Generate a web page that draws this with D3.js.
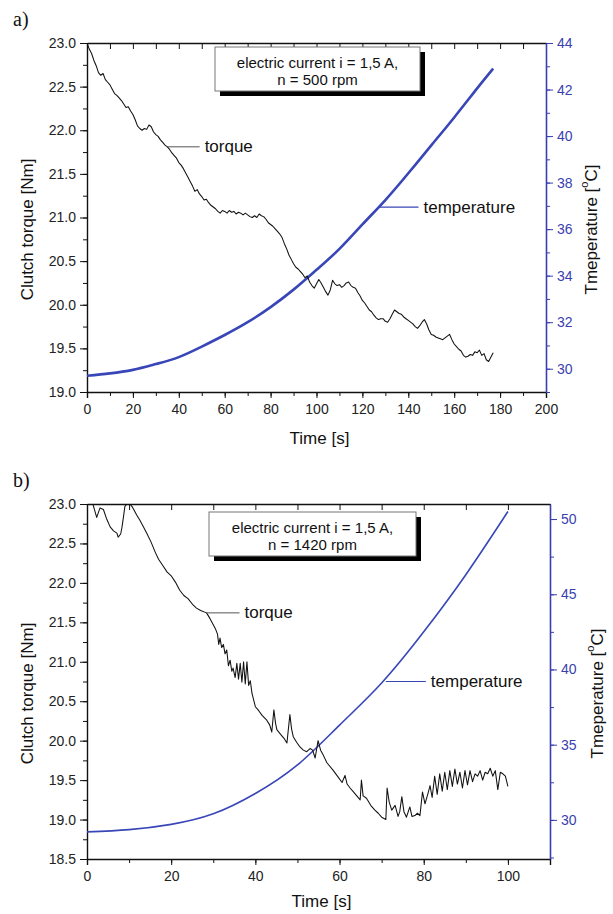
<!DOCTYPE html>
<html>
<head>
<meta charset="utf-8">
<script src="https://cdn.jsdelivr.net/npm/d3@7"></script>
<style>
  html, body { margin: 0; padding: 0; background: #fff; }
  svg { display: block; }
  text { font-family: "Liberation Sans", Arial, sans-serif; }
</style>
</head>
<body>
<svg id="chart" width="613" height="914"></svg>
<script>
// ---------- DATA : panel a) ----------
const aTorqueTime = d3.range(0, 178, 1); // sample times [s]
const aTorque = [
23.00,22.93,22.88,22.80,22.74,22.66,22.63,22.65,22.58,22.55,
22.52,22.47,22.42,22.40,22.37,22.34,22.30,22.26,22.27,22.22,
22.18,22.12,22.05,22.02,22.00,22.02,22.01,22.06,22.04,21.98,
21.95,21.93,21.89,21.86,21.83,21.81,21.78,21.74,21.71,21.68,
21.63,21.60,21.56,21.51,21.46,21.41,21.36,21.30,21.32,21.27,
21.24,21.20,21.21,21.17,21.14,21.12,21.10,21.07,21.05,21.08,
21.07,21.05,21.08,21.06,21.07,21.04,21.06,21.05,21.03,21.05,
21.03,21.01,21.00,21.02,21.00,21.04,21.02,21.01,20.98,20.94,
20.92,20.90,20.87,20.84,20.81,20.77,20.70,20.64,20.57,20.52,
20.47,20.43,20.41,20.38,20.35,20.31,20.33,20.26,20.22,20.19,
20.24,20.29,20.25,20.20,20.15,20.11,20.17,20.28,20.24,20.22,
20.23,20.20,20.22,20.25,20.26,20.22,20.20,20.19,20.14,20.10,
20.05,20.02,19.98,19.94,19.92,19.88,19.85,19.83,19.84,19.84,
19.81,19.80,19.84,19.89,19.94,19.92,19.90,19.89,19.86,19.84,
19.82,19.80,19.78,19.75,19.73,19.76,19.80,19.83,19.78,19.71,
19.66,19.65,19.63,19.62,19.61,19.60,19.62,19.64,19.66,19.60,
19.55,19.52,19.49,19.47,19.42,19.40,19.41,19.43,19.42,19.46,
19.45,19.48,19.42,19.44,19.37,19.35,19.40,19.45
];
const aTempTime = [0, 10, 20, 30, 40, 50, 60, 70, 80, 90, 100, 110, 120, 130, 140, 150, 160, 170, 177];
const aTemp     = [29.7, 29.8, 29.95, 30.2, 30.5, 30.95, 31.45, 32.0, 32.65, 33.4, 34.25, 35.15, 36.2, 37.25, 38.4, 39.6, 40.8, 42.05, 42.9];
const aXTicks = [0, 20, 40, 60, 80, 100, 120, 140, 160, 180, 200];
const aYLTicks = [19.0, 19.5, 20.0, 20.5, 21.0, 21.5, 22.0, 22.5, 23.0];
const aYRTicks = [30, 32, 34, 36, 38, 40, 42, 44];
const aLegend = ["electric current i = 1,5 A,", "n = 500 rpm"];

// ---------- DATA : panel b) ----------
const bTorqueTime = [
0,1,1.5,2.3,3.1,3.9,4.6,5.5,6.3,7.1,7.4,8.0,8.3,8.7,9.0,9.5,10.2,10.8,
11.8,12.5,13.3,14.2,15.2,16.2,17.0,18.0,19.0,20.0,21.0,22.0,23.0,24.0,25.2,26.0,27.0,28.4,29.2,30.0,
30.5,31.0,31.3,31.6,32.0,32.4,32.8,33.2,33.6,34.0,34.4,34.7,35.2,35.6,36.0,36.4,36.8,37.2,37.6,38.0,38.4,38.8,39.2,
40.0,40.8,41.6,42.7,43.4,43.9,44.4,44.8,45.1,46.0,46.8,47.5,48.2,48.6,49.0,49.8,50.6,51.4,52.2,53.0,53.6,54.2,54.9,55.5,56.1,
57.0,58.4,59.5,60.6,61.3,61.8,62.5,63.3,64.1,64.9,65.2,65.6,66.4,67.4,68.4,69.2,70.0,71.0,71.3,71.8,72.4,73.2,73.9,74.3,74.8,
75.3,75.9,76.7,77.2,77.9,78.5,79.1,79.7,80.3,81.0,81.5,82.0,82.6,83.2,83.8,84.4,85.0,85.6,86.2,86.8,87.4,88.0,88.6,89.2,89.8,
90.4,91.0,91.6,92.2,92.8,93.4,94.0,94.6,95.2,95.8,96.4,97.0,97.6,98.2,98.8,99.4,100.0
];
const bTorque = [
23.15,23.08,22.98,22.83,22.95,22.93,22.82,22.71,22.66,22.63,22.58,22.62,22.70,22.85,22.97,23.00,23.00,22.96,
22.86,22.80,22.72,22.63,22.52,22.39,22.30,22.22,22.14,22.09,22.01,21.91,21.84,21.80,21.72,21.68,21.65,21.62,21.55,21.47,
21.42,21.35,21.22,21.30,21.18,21.22,21.10,21.15,20.95,21.02,20.88,20.92,20.80,20.98,20.78,20.98,20.74,21.00,20.72,21.00,20.70,20.76,20.60,
20.43,20.38,20.32,20.26,20.20,20.11,20.39,20.22,20.14,20.08,20.03,19.97,20.33,20.15,20.05,19.98,19.92,19.88,19.86,19.90,19.88,19.78,20.00,19.88,19.82,
19.72,19.63,19.55,19.47,19.56,19.45,19.40,19.35,19.30,19.25,19.50,19.30,19.27,19.18,19.12,19.08,19.03,19.00,19.40,19.22,19.12,19.18,19.04,19.10,19.29,
19.10,19.03,19.16,19.04,19.05,19.08,19.05,19.35,19.20,19.33,19.43,19.28,19.55,19.32,19.58,19.36,19.60,19.38,19.62,19.42,19.64,19.45,19.60,19.40,19.62,
19.44,19.62,19.48,19.58,19.55,19.62,19.50,19.60,19.58,19.65,19.55,19.62,19.38,19.60,19.58,19.55,19.42
];
const bTempTime = [0, 10, 20, 30, 40, 50, 60, 70, 80, 90, 100];
const bTemp     = [29.2, 29.35, 29.7, 30.4, 31.75, 33.65, 36.3, 39.1, 42.5, 46.3, 50.5];
const bXTicks = [0, 20, 40, 60, 80, 100];
const bYLTicks = [18.5, 19.0, 19.5, 20.0, 20.5, 21.0, 21.5, 22.0, 22.5, 23.0];
const bYRTicks = [30, 35, 40, 45, 50];
const bLegend = ["electric current i = 1,5 A,", "n = 1420 rpm"];

// ---------- DRAWING ----------
const svg = d3.select("#chart");
const BLUE = "#3a3fb0";
const LINEBLUE = "#3846b8";

function panel(cfg) {
  const g = svg.append("g");
  const x = d3.scaleLinear().domain(cfg.xDomain).range([cfg.left, cfg.right]);
  const yL = d3.scaleLinear().domain(cfg.yLDomain).range([cfg.bottom, cfg.top]);
  const yR = d3.scaleLinear().domain(cfg.yRDomain).range([cfg.bottom, cfg.top]);

  // panel letter
  g.append("text").attr("x", 13).attr("y", cfg.top - 17)
    .style("font-family", "'Liberation Serif', 'Times New Roman', serif")
    .style("font-size", "20px").attr("fill", "#111").text(cfg.letter);

  // clip
  const cid = "clip" + cfg.letter.replace(")", "");
  g.append("clipPath").attr("id", cid).append("rect")
    .attr("x", cfg.left).attr("y", cfg.top)
    .attr("width", cfg.right - cfg.left).attr("height", cfg.bottom - cfg.top);

  // bottom axis
  const xMinor = d3.range(cfg.xDomain[0], cfg.xDomain[1] + 0.001, cfg.xMinor);
  const bottomAx = d3.axisBottom(x).tickValues(cfg.xTicks).tickFormat(d3.format("d")).tickSize(6).tickPadding(6);
  const gb = g.append("g").attr("transform", `translate(0,${cfg.bottom})`);
  gb.append("g").call(d3.axisBottom(x).tickValues(xMinor).tickFormat("").tickSize(4))
    .call(a => a.select(".domain").remove());
  gb.append("g").call(bottomAx);
  gb.selectAll("text").style("font-size", "14px").attr("fill", "#222");

  // top axis (ticks inward)
  const gt = g.append("g").attr("transform", `translate(0,${cfg.top})`);
  gt.call(d3.axisTop(x).tickValues(xMinor).tickFormat("").tickSize(-6).tickSizeOuter(0));

  // left axis
  const yLMinor = d3.range(cfg.yLDomain[0], cfg.yLDomain[1] + 0.001, 0.25);
  const gl = g.append("g").attr("transform", `translate(${cfg.left},0)`);
  gl.append("g").call(d3.axisLeft(yL).tickValues(yLMinor).tickFormat("").tickSize(4))
    .call(a => a.select(".domain").remove());
  gl.append("g").call(d3.axisLeft(yL).tickValues(cfg.yLTicks).tickFormat(d3.format(".1f")).tickSize(7).tickPadding(4).tickSizeOuter(0));
  gl.selectAll("text").style("font-size", "14px").attr("fill", "#222");

  // right axis (blue)
  const yRMinor = d3.range(cfg.yRTicks[0] - cfg.yRMinor * 2, cfg.yRDomain[1] + 0.001, cfg.yRMinor)
    .filter(v => v >= cfg.yRDomain[0] && v <= cfg.yRDomain[1]);
  const gr = g.append("g").attr("transform", `translate(${cfg.right},0)`);
  gr.append("g").call(d3.axisRight(yR).tickValues(yRMinor).tickFormat("").tickSize(4))
    .call(a => a.select(".domain").remove());
  gr.append("g").call(d3.axisRight(yR).tickValues(cfg.yRTicks).tickFormat(d3.format("d")).tickSize(7).tickPadding(4).tickSizeOuter(0));
  gr.selectAll("line").attr("stroke", BLUE);
  gr.selectAll("path").attr("stroke", BLUE).attr("stroke-width", 1.6);
  gr.selectAll("text").style("font-size", "14px").attr("fill", BLUE);

  // axis titles
  g.append("text").attr("transform", `translate(${cfg.left - 60},${(cfg.top + cfg.bottom) / 2 + 12}) rotate(-90)`)
    .attr("text-anchor", "middle").attr("dominant-baseline", "central")
    .style("font-size", "17px").attr("fill", "#111").text("Clutch torque [Nm]");
  g.append("text").attr("x", (cfg.left + cfg.right) / 2 + 3).attr("y", cfg.bottom + cfg.timeDy)
    .attr("text-anchor", "middle").style("font-size", "17px").attr("fill", "#111").text("Time [s]");
  const rt = g.append("text").attr("transform", `translate(${cfg.right + cfg.rTitleDx},${(cfg.top + cfg.bottom) / 2 + 12}) rotate(-90)`)
    .attr("text-anchor", "middle").attr("dominant-baseline", "central")
    .style("font-size", "17px").attr("fill", "#111");
  rt.append("tspan").text("Tmeperature [");
  rt.append("tspan").attr("dy", -7).style("font-size", "11px").text("o");
  rt.append("tspan").attr("dy", 7).text("C]");

  // data lines
  const torqueLine = d3.line().x(d => x(d[0])).y(d => yL(d[1]));
  const tempLine = d3.line().curve(d3.curveNatural).x(d => x(d[0])).y(d => yR(d[1]));
  const plot = g.append("g").attr("clip-path", `url(#${cid})`);
  plot.append("path").datum(d3.zip(cfg.tempTime, cfg.temp)).attr("d", tempLine)
    .attr("fill", "none").attr("stroke", LINEBLUE).attr("stroke-width", cfg.tempWidth);
  plot.append("path").datum(d3.zip(cfg.torqueTime, cfg.torque)).attr("d", torqueLine)
    .attr("fill", "none").attr("stroke", "#111").attr("stroke-width", 1.05).attr("stroke-linejoin", "round");

  // annotations
  const ta = cfg.torqueLabel;
  g.append("line").attr("x1", x(ta[0])).attr("x2", x(ta[0]) + 33).attr("y1", yL(ta[1])).attr("y2", yL(ta[1]))
    .attr("stroke", "#555").attr("stroke-width", 1);
  g.append("text").attr("x", x(ta[0]) + 38).attr("y", yL(ta[1])).attr("dominant-baseline", "central")
    .style("font-size", "17px").attr("fill", "#111").text("torque");
  const te = cfg.tempLabel;
  g.append("line").attr("x1", x(te[0])).attr("x2", x(te[0]) + 40).attr("y1", yR(te[1])).attr("y2", yR(te[1]))
    .attr("stroke", LINEBLUE).attr("stroke-width", 1.2);
  g.append("text").attr("x", x(te[0]) + 45).attr("y", yR(te[1])).attr("dominant-baseline", "central")
    .style("font-size", "17px").attr("fill", "#111").text("temperature");

  // legend box
  const lb = cfg.legendBox; // [x0, y0, w, h] relative to plot top-left
  const bx = cfg.left + lb[0], by = cfg.top + lb[1];
  g.append("rect").attr("x", bx + 5).attr("y", by + 5).attr("width", lb[2]).attr("height", lb[3]).attr("fill", "#000");
  g.append("rect").attr("x", bx).attr("y", by).attr("width", lb[2]).attr("height", lb[3])
    .attr("fill", "#fff").attr("stroke", "#777").attr("stroke-width", 1);
  cfg.legend.forEach((s, i) => {
    g.append("text").attr("x", bx + lb[2] / 2).attr("y", by + 15 + i * 17.5)
      .attr("text-anchor", "middle").attr("dominant-baseline", "central")
      .style("font-size", "15px").attr("fill", "#111").text(s);
  });

  // axis line colors
  gb.selectAll(".domain").attr("stroke", "#111").attr("stroke-width", 1.4);
  gt.selectAll(".domain").attr("stroke", "#111").attr("stroke-width", 1.4);
  gl.selectAll(".domain").attr("stroke", "#111").attr("stroke-width", 1.4);
  g.selectAll("g.tick line").filter(function () { return this.getAttribute("stroke") !== BLUE; }).attr("stroke", "#111");
}

panel({
  letter: "a)", left: 87, right: 546, top: 43, bottom: 392,
  xDomain: [0, 200], xMinor: 10, xTicks: aXTicks,
  yLDomain: [19, 23], yLTicks: aYLTicks,
  yRDomain: [29, 44], yRTicks: aYRTicks, yRMinor: 1,
  torqueTime: aTorqueTime, torque: aTorque,
  tempTime: aTempTime, temp: aTemp, tempWidth: 2.6,
  torqueLabel: [34.7, 21.81], tempLabel: [127, 36.95],
  legendBox: [128, 4, 205, 44], legend: aLegend, rTitleDx: 45, timeDy: 52
});

panel({
  letter: "b)", left: 87, right: 550, top: 504, bottom: 859,
  xDomain: [0, 110], xMinor: 10, xTicks: bXTicks,
  yLDomain: [18.5, 23], yLTicks: bYLTicks,
  yRDomain: [27.4, 51], yRTicks: bYRTicks, yRMinor: 2.5,
  torqueTime: bTorqueTime, torque: bTorque,
  tempTime: bTempTime, temp: bTemp, tempWidth: 1.6,
  torqueLabel: [28.4, 21.62], tempLabel: [71, 39.2],
  legendBox: [122, 8, 207, 44], legend: bLegend, rTitleDx: 47, timeDy: 48
});
</script>
</body>
</html>
